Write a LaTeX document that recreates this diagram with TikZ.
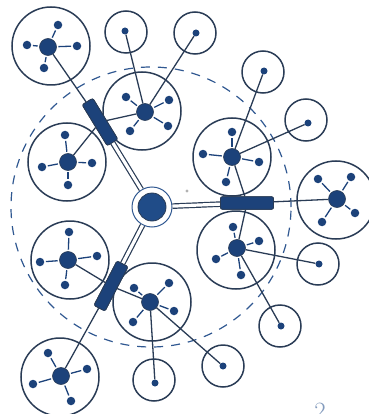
\documentclass[tikz,border=0pt]{standalone}
\definecolor{ink}{RGB}{42,60,86}
\definecolor{dotc}{RGB}{28,66,122}
\definecolor{dashc}{RGB}{48,88,145}
\definecolor{hubfill}{RGB}{32,76,136}
\begin{document}
\begin{tikzpicture}[x=1pt,y=-1pt,
  bigc/.style={circle,draw=ink,line width=1.5pt,minimum size=78pt,inner sep=0pt},
  leafc/.style={circle,draw=ink,line width=1.5pt,minimum size=42pt,inner sep=0pt},
  cdot/.style={circle,fill=dotc,draw=ink,line width=0.6pt,minimum size=17pt,inner sep=0pt},
  sdot/.style={circle,fill=dotc,minimum size=8.5pt,inner sep=0pt},
  ldot/.style={circle,fill=dotc,minimum size=7pt,inner sep=0pt},
  spoke/.style={draw=dotc,line width=1.3pt,shorten <=1.5pt,shorten >=1.5pt},
  link/.style={draw=ink,line width=1.3pt},
  arm/.style={draw=ink,line width=1.2pt,double=white,double distance=3.2pt},
  blockn/.style={rectangle,rounded corners=2pt,fill=dotc,draw=ink,line width=0.8pt,minimum width=50pt,minimum height=12.5pt,inner sep=0pt},
]
\useasboundingbox (0,0) rectangle (368,414);
% dashed boundary
\draw[dashc,line width=1.2pt,dash pattern=on 9pt off 8pt] (151,207) circle[radius=140pt];
% big clusters
\node[bigc] (A) at (51,46) {};
\node[bigc] (B) at (142,111) {};
\node[bigc] (C) at (67,162) {};
\node[bigc] (D) at (232,157) {};
\node[bigc] (E) at (336,200) {};
\node[bigc] (F) at (236,250) {};
\node[bigc] (G) at (152,302) {};
\node[bigc] (H) at (70,260) {};
\node[bigc] (I) at (60,377) {};
% leaf circles
\node[leafc] (S1) at (126,32) {};
\node[leafc] (S2) at (195,33) {};
\node[leafc] (S3) at (263,72) {};
\node[leafc] (S4) at (306,120) {};
\node[leafc] (S5) at (318,264) {};
\node[leafc] (S6) at (280,326) {};
\node[leafc] (S7) at (154,380) {};
\node[leafc] (S8) at (223,366) {};
% centre dots
\node[cdot] (Ac) at (48,47) {};
\node[cdot] (Bc) at (145,112) {};
\node[cdot] (Cc) at (68,162) {};
\node[cdot] (Dc) at (232,157) {};
\node[cdot] (Ec) at (337,199) {};
\node[cdot] (Fc) at (237,248) {};
\node[cdot] (Gc) at (150,302) {};
\node[cdot] (Hc) at (68,260) {};
\node[cdot] (Ic) at (61,376) {};
% leaf dots
\node[ldot] (L1) at (125,31) {};
\node[ldot] (L2) at (196,33) {};
\node[ldot] (L3) at (264,71) {};
\node[ldot] (L4) at (308,123) {};
\node[ldot] (L5) at (319,264) {};
\node[ldot] (L6) at (281,326) {};
\node[ldot] (L7) at (155,383) {};
\node[ldot] (L8) at (223,366) {};
% satellites
\node[sdot] (A1) at (58,25) {}; \node[sdot] (A2) at (27,45) {}; \node[sdot] (A3) at (77,46) {}; \node[sdot] (A4) at (44,68) {};
\node[sdot] (B1) at (126,97) {}; \node[sdot] (B2) at (169,100) {}; \node[sdot] (B3) at (130,131) {}; \node[sdot] (B4) at (168,126) {};
\node[sdot] (C1) at (65,135) {}; \node[sdot] (C2) at (42,167) {}; \node[sdot] (C3) at (92,163) {}; \node[sdot] (C4) at (68,185) {};
\node[sdot] (D1) at (232,132) {}; \node[sdot] (D2) at (203,154) {}; \node[sdot] (D3) at (259,162) {}; \node[sdot] (D4) at (226,182) {};
\node[sdot] (E1) at (318,179) {}; \node[sdot] (E2) at (351,177) {}; \node[sdot] (E3) at (322,222) {}; \node[sdot] (E4) at (355,213) {};
\node[sdot] (F1) at (233,227) {}; \node[sdot] (F2) at (259,241) {}; \node[sdot] (F3) at (216,259) {}; \node[sdot] (F4) at (241,275) {};
\node[sdot] (G1) at (134,288) {}; \node[sdot] (G2) at (169,283) {}; \node[sdot] (G3) at (133,322) {}; \node[sdot] (G4) at (174,311) {};
\node[sdot] (H1) at (69,232) {}; \node[sdot] (H2) at (40,262) {}; \node[sdot] (H3) at (97,256) {}; \node[sdot] (H4) at (65,285) {};
\node[sdot] (I1) at (48,353) {}; \node[sdot] (I2) at (33,384) {}; \node[sdot] (I3) at (87,369) {}; \node[sdot] (I4) at (71,401) {};
\foreach \c in {A,B,C,D,E,F,G,H,I}{
  \foreach \s in {1,2,3,4}{\draw[spoke] (\c c) -- (\c\s);}
}
% blocks
\node[blockn,minimum width=48pt,rotate=121.5] (ULb) at (100,122) {};
\node[blockn,minimum width=53pt] (Rb) at (247,203) {};
\node[blockn,minimum width=50pt,rotate=62.6] (LLb) at (111,286) {};
% links to leaves
\draw[link] (Bc) -- (L1);
\draw[link] (Bc) -- (L2);
\draw[link] (Dc) -- (L3);
\draw[link] (Dc) -- (L4);
\draw[link] (Fc) -- (L5);
\draw[link] (Fc) -- (L6);
\draw[link] (Gc) -- (L7);
\draw[link] (Gc) -- (L8);
% links to blocks
\draw[link] (Ac) -- (ULb);
\draw[link] (Bc) -- (ULb);
\draw[link] (Cc) -- (ULb);
\draw[link] (Dc) -- (Rb);
\draw[link] (Fc) -- (Rb);
\draw[link] (Ec) -- (Rb);
\draw[link] (Gc) -- (LLb);
\draw[link] (Hc) -- (LLb);
\draw[link] (Ic) -- (LLb);
% hub
\node[circle,draw=dashc,line width=1pt,fill=white,minimum size=40pt,inner sep=0pt] (hub) at (152,207) {};
\node[circle,fill=hubfill,draw=ink,line width=0.8pt,minimum size=28pt,inner sep=0pt] (hubin) at (152,207) {};
\draw[arm] (hub) -- (ULb);
\draw[arm] (hub) -- (Rb);
\draw[arm] (hub) -- (LLb);
% redraw blocks on top
\node[blockn,minimum width=48pt,rotate=121.5] at (100,122) {};
\node[blockn,minimum width=53pt] at (247,203) {};
\node[blockn,minimum width=50pt,rotate=62.6] at (111,286) {};
% speck and page mark
\fill[gray!60] (187,191) circle[radius=1.6pt];
\node[text=dashc!60,font=\Huge,anchor=north,inner sep=0pt] (pg) at (320,403) {2};
\end{tikzpicture}
\end{document}
